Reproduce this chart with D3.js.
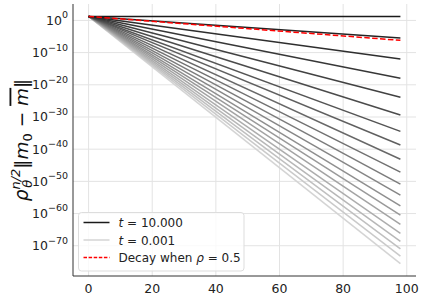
<!DOCTYPE html>
<html>
<head>
<meta charset="utf-8">
<script src="https://cdn.jsdelivr.net/npm/d3@7"></script>
<style>
  body { margin: 0; background: #fff; }
  svg { font-family: "DejaVu Sans", sans-serif; }
</style>
</head>
<body>
<div id="grafico"></div>
<script>
// dados (expoentes em base 10)
const passos = [0, 98];                 // n inicial e final de cada curva
const expInicial = 1.24;                // log10 do valor em n=0
const expFinal = [1.24, -5.45, -11.95, -17.96, -23.84, -29.41, -34.46, -38.70, -43.13, -47.15,
                  -50.87, -54.27, -57.59, -60.46, -63.34, -66.13, -68.61, -70.99, -73.25, -75.54];
const decaimentoFinal = -6.19;          // curva vermelha, rho = 0.5
const xTicks = [0, 20, 40, 60, 80, 100];
const yTicksExp = [0, -10, -20, -30, -40, -50, -60, -70];
const legenda = ["t = 10.000", "t = 0.001", "Decay when ρ = 0.5"];

const W = 423, H = 298;
const m = {left: 73, right: 7, top: 4, bottom: 22};

const svg = d3.select('#grafico').append('svg')
  .attr('width', W).attr('height', H);

const x = d3.scaleLinear().domain([-4.9, 102.9]).range([m.left, W - m.right]);
const y = d3.scaleLog().domain([Math.pow(10, -79.4), Math.pow(10, 5.1)]).range([H - m.bottom, m.top]);

// grade
svg.append('g').selectAll('line').data(xTicks).join('line')
  .attr('x1', d => x(d)).attr('x2', d => x(d))
  .attr('y1', m.top).attr('y2', H - m.bottom)
  .attr('stroke', '#e3e3e3').attr('stroke-width', 1);
svg.append('g').selectAll('line').data(yTicksExp).join('line')
  .attr('x1', m.left).attr('x2', W - m.right)
  .attr('y1', d => y(Math.pow(10, d))).attr('y2', d => y(Math.pow(10, d)))
  .attr('stroke', '#e3e3e3').attr('stroke-width', 1);

// curvas
const cor = d3.scaleLinear().domain([0, expFinal.length - 1]).range(['#1a1a1a', '#d4d4d4']);
const linha = d3.line().x(d => x(d[0])).y(d => y(Math.pow(10, d[1])));

const series = expFinal.map((e, i) => ({i, pts: [[passos[0], expInicial], [passos[1], e]]}));
svg.append('g').selectAll('path').data(series.slice().reverse()).join('path')
  .attr('d', d => linha(d.pts))
  .attr('fill', 'none')
  .attr('stroke', d => cor(d.i))
  .attr('stroke-width', 1.5);

svg.append('path')
  .attr('d', linha([[passos[0], expInicial], [passos[1], decaimentoFinal]]))
  .attr('fill', 'none').attr('stroke', 'red')
  .attr('stroke-width', 1.5).attr('stroke-dasharray', '5.5,2.4');

// eixos (só esquerda e baixo)
svg.append('line').attr('x1', m.left).attr('x2', m.left)
  .attr('y1', m.top).attr('y2', H - m.bottom).attr('stroke', '#333').attr('stroke-width', 1);
svg.append('line').attr('x1', m.left).attr('x2', W - m.right)
  .attr('y1', H - m.bottom).attr('y2', H - m.bottom).attr('stroke', '#333').attr('stroke-width', 1);

svg.append('g').selectAll('text').data(xTicks).join('text')
  .attr('x', d => x(d)).attr('y', 293)
  .attr('text-anchor', 'middle').attr('font-size', 12.5).attr('fill', '#222')
  .text(d => d);

const yl = svg.append('g').selectAll('text').data(yTicksExp).join('text')
  .attr('x', 68).attr('y', d => y(Math.pow(10, d)) + 4.5)
  .attr('text-anchor', 'end').attr('font-size', 12.5).attr('fill', '#222');
yl.append('tspan').text('10');
yl.append('tspan').attr('dy', -6.6).attr('font-size', 9.5)
  .text(d => d === 0 ? '0' : '−' + Math.abs(d));

// rótulo do eixo y
const rot = svg.append('text')
  .attr('transform', 'translate(27.5,140) rotate(-90)')
  .attr('text-anchor', 'middle').attr('font-size', 18.5).attr('fill', '#111');
rot.append('tspan').attr('font-style', 'italic').text('ρ');
rot.append('tspan').attr('font-style', 'italic').attr('font-size', 13).attr('dy', -8).text('n/2');
rot.append('tspan').attr('font-style', 'italic').attr('font-size', 13).attr('dx', -19).attr('dy', 12).text('θ');
rot.append('tspan').attr('dx', 11).attr('dy', -4).text('‖');
rot.append('tspan').attr('font-style', 'italic').text('m');
rot.append('tspan').attr('font-size', 13).attr('dy', 4).text('0');
rot.append('tspan').attr('dy', -4).text(' − ');
rot.append('tspan').attr('font-style', 'italic').attr('text-decoration', 'overline').text('m');
rot.append('tspan').text('‖');

// legenda
const leg = svg.append('g').attr('transform', 'translate(78.5,212.5)');
leg.append('rect').attr('width', 165.5).attr('height', 58.5).attr('rx', 3)
  .attr('fill', 'white').attr('fill-opacity', 0.8).attr('stroke', '#ddd');
const estilos = [
  {cor: cor(0), dash: null},
  {cor: cor(expFinal.length - 1), dash: null},
  {cor: 'red', dash: '3.5,1.6'}
];
legenda.forEach((t, i) => {
  const yy = 10 + i * 17.5;
  leg.append('line').attr('x1', 5).attr('x2', 31).attr('y1', yy).attr('y2', yy)
    .attr('stroke', estilos[i].cor).attr('stroke-width', 1.5)
    .attr('stroke-dasharray', estilos[i].dash);
  const tx = leg.append('text').attr('x', 40).attr('y', yy + 4.5)
    .attr('font-size', 12).attr('fill', '#222');
  if (i < 2) {
    const [a, b] = t.split(' = ');
    tx.append('tspan').attr('font-style', 'italic').text(a);
    tx.append('tspan').text(' = ' + b);
  } else {
    tx.append('tspan').text('Decay when ');
    tx.append('tspan').attr('font-style', 'italic').text('ρ');
    tx.append('tspan').text(' = 0.5');
  }
});
</script>
</body>
</html>
